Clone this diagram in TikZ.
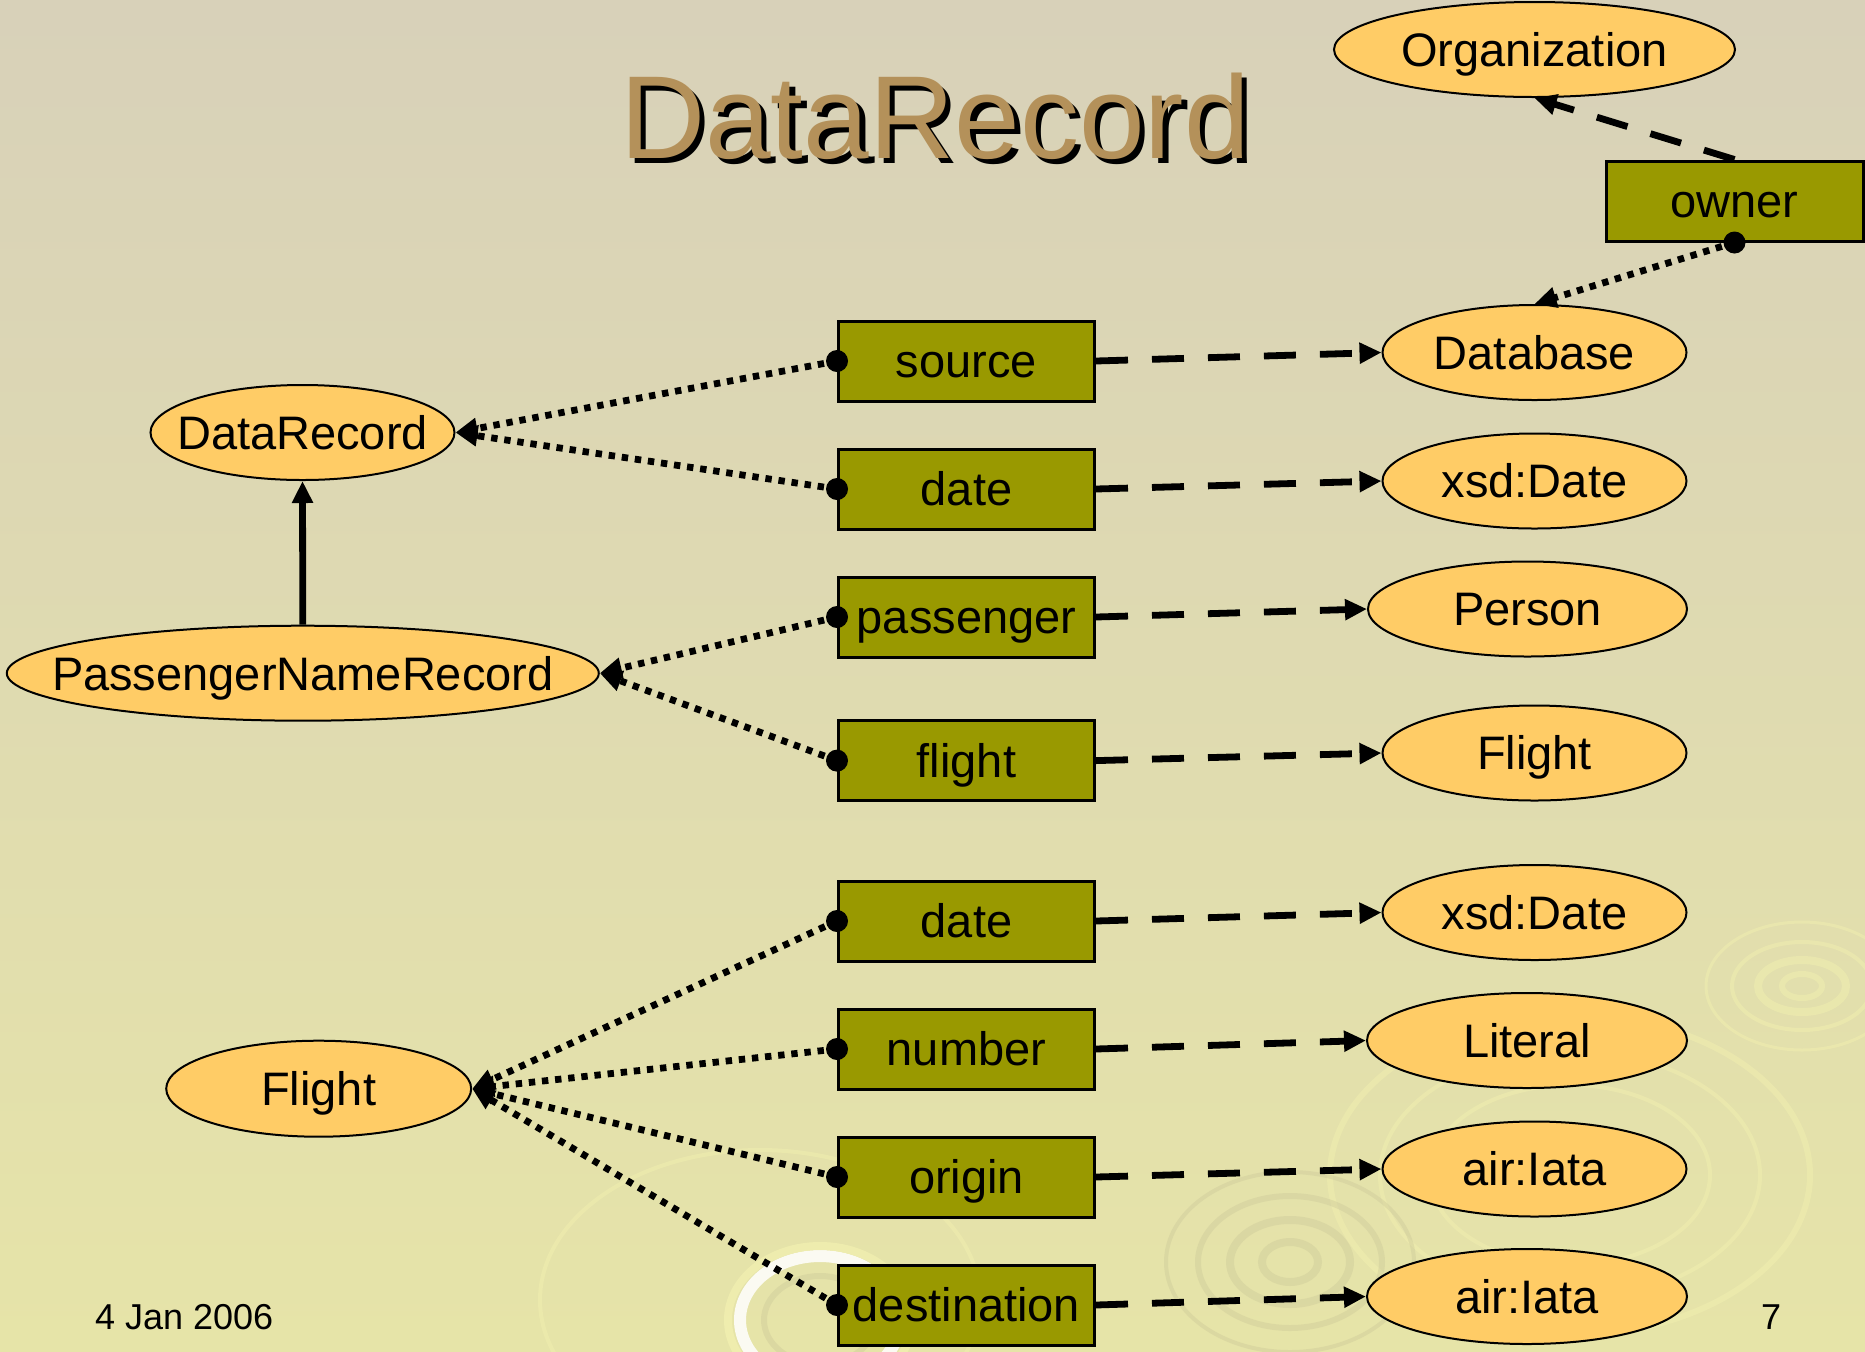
\documentclass[tikz,border=0pt]{standalone}
\usepackage{fontspec}
\setmainfont{Liberation Sans}
\usetikzlibrary{shapes.geometric,arrows.meta}
\definecolor{bgtop}{RGB}{216,209,185}
\definecolor{bgmid}{RGB}{219,214,182}
\definecolor{bgbot}{RGB}{230,228,168}
\definecolor{boxfill}{RGB}{153,153,0}
\definecolor{ellfill}{RGB}{255,204,102}
\definecolor{titlecol}{RGB}{180,145,90}
\definecolor{ringlight}{RGB}{240,238,175}
\definecolor{ringdark}{RGB}{200,196,150}
\begin{document}
\begin{tikzpicture}[x=0.5pt,y=-0.5pt,
 lbl/.style={font=\fontsize{23.5}{28}\selectfont, text=black, text height=16.8pt, text depth=0pt},
 cls/.style={lbl, ellipse, draw=black, line width=1pt, fill=ellfill, inner xsep=-30pt, inner ysep=0pt, minimum height=47.5pt},
 prop/.style={lbl, rectangle, draw=black, line width=1.5pt, fill=boxfill, inner sep=0pt, minimum width=128pt, minimum height=40pt},
 dasharr/.style={line width=3.4pt, dash pattern=on 16pt off 12pt, -{Triangle[length=11pt,width=10pt]}},
 dotarr/.style={line width=3.4pt, dash pattern=on 3.2pt off 3.4pt, -{Triangle[length=11pt,width=10pt]}},
 subarr/.style={line width=3.4pt, -{Triangle[length=11pt,width=10pt]}},
 dotend/.style={fill=black},
 ring/.style={draw=ringlight, opacity=0.55},
 ringd/.style={draw=ringdark, opacity=0.35},
]
% background
\shade[top color=bgtop, middle color=bgmid, bottom color=bgbot] (0,0) rectangle (1865,1351);
\useasboundingbox (0,0) rectangle (1865,1351);
% ripples (decoration)
\draw[ring, line width=3pt] (1802,986) ellipse [x radius=10pt, y radius=6pt];
\draw[ring, line width=4pt] (1802,986) ellipse [x radius=22pt, y radius=13pt];
\draw[ring, line width=2pt] (1802,986) ellipse [x radius=35pt, y radius=22pt];
\draw[ring, line width=1.5pt] (1802,986) ellipse [x radius=48pt, y radius=32pt];
\draw[ring, line width=3pt] (1570,1175) ellipse [x radius=120pt, y radius=80pt];
\draw[ring, line width=2pt] (1570,1175) ellipse [x radius=95pt, y radius=62pt];
\draw[ring, line width=2pt] (1570,1175) ellipse [x radius=70pt, y radius=45pt];
\draw[ringd, line width=4pt] (1290,1262) ellipse [x radius=14pt, y radius=10pt];
\draw[ringd, line width=4pt] (1290,1262) ellipse [x radius=30pt, y radius=21pt];
\draw[ringd, line width=3pt] (1290,1262) ellipse [x radius=46pt, y radius=33pt];
\draw[ringd, line width=2pt] (1290,1262) ellipse [x radius=62pt, y radius=45pt];
\draw[ring, line width=2pt] (760,1300) ellipse [x radius=110pt, y radius=75pt];
\draw[white, opacity=0.85, line width=6pt] (820,1320) ellipse [x radius=40pt, y radius=32pt];
\draw[ringlight, opacity=0.9, line width=4pt] (820,1320) ellipse [x radius=46pt, y radius=37pt];
\draw[ringd, line width=3pt] (820,1320) ellipse [x radius=28pt, y radius=22pt];

% title
\node[anchor=base, font=\fontsize{59}{64}\selectfont, text=black] (titleshadow) at (940.5,163.8) {DataRecord};
\node[anchor=base, font=\fontsize{59}{64}\selectfont, text=titlecol] (title) at (935,158.3) {DataRecord};

% class ellipses
\node[cls, minimum width=200.5pt] (org) at (1534.5,49.5) {Organization};
\node[cls, minimum width=152pt] (db) at (1534.5,352.5) {Database};
\node[cls, minimum width=152pt] (xd1) at (1534.5,481) {xsd:Date};
\node[cls, minimum width=159.5pt] (person) at (1527.5,609) {Person};
\node[cls, minimum width=152pt] (flr) at (1534.5,753) {Flight};
\node[cls, minimum width=152pt] (xd2) at (1534.5,912.5) {xsd:Date};
\node[cls, minimum width=160pt] (lit) at (1527,1040.5) {Literal};
\node[cls, minimum width=152pt] (ia1) at (1534.5,1169) {air:Iata};
\node[cls, minimum width=160pt] (ia2) at (1527,1296.5) {air:Iata};
\node[cls, minimum width=152pt] (dr) at (302.5,432.5) {DataRecord};
\node[cls, minimum width=296pt] (pnr) at (302.8,673.2) {PassengerNameRecord};
\node[cls, minimum width=152.5pt, minimum height=48pt] (fll) at (318.7,1088.7) {Flight};

% property boxes
\node[prop, minimum width=128.5pt] (owner) at (1734.5,201) {owner};
\node[prop] (src) at (966.5,361) {source};
\node[prop] (dt) at (966.5,489) {date};
\node[prop] (pas) at (966.5,617) {passenger};
\node[prop] (flt) at (966.5,760.6) {flight};
\node[prop] (fdt) at (966.5,921) {date};
\node[prop] (num) at (966.5,1049) {number};
\node[prop] (ori) at (966.5,1177) {origin};
\node[prop] (dst) at (966.5,1305) {destination};

% range connectors (dashed)
\draw[dasharr] (owner.north) -- (org.south);
\draw[dasharr] (src.east) -- (db.west);
\draw[dasharr] (dt.east) -- (xd1.west);
\draw[dasharr] (pas.east) -- (person.west);
\draw[dasharr] (flt.east) -- (flr.west);
\draw[dasharr] (fdt.east) -- (xd2.west);
\draw[dasharr] (num.east) -- (lit.west);
\draw[dasharr] (ori.east) -- (ia1.west);
\draw[dasharr] (dst.east) -- (ia2.west);

% domain connectors (dotted)
\draw[dotarr] (owner.south) -- (db.north);
\draw[dotarr] (src.west) -- (dr.east);
\draw[dotarr] (dt.west) -- (dr.east);
\draw[dotarr] (pas.west) -- (pnr.east);
\draw[dotarr] (flt.west) -- (pnr.east);
\draw[dotarr] (fdt.west) -- (fll.east);
\draw[dotarr] (num.west) -- (fll.east);
\draw[dotarr] (ori.west) -- (fll.east);
\draw[dotarr] (dst.west) -- (fll.east);

\foreach \b in {owner.south,src.west,dt.west,pas.west,flt.west,fdt.west,num.west,ori.west,dst.west}
  \fill[dotend] (\b) circle [radius=5.5pt];

% subclass
\draw[subarr] (pnr.north) -- (dr.south);

% footer
\node[anchor=base west, font=\fontsize{18}{22}\selectfont, text=black] (datefoot) at (88,1329) {4 Jan 2006};
\node[anchor=base, font=\fontsize{18}{22}\selectfont, text=black] (pagenum) at (1771,1329) {7};
\end{tikzpicture}
\end{document}
